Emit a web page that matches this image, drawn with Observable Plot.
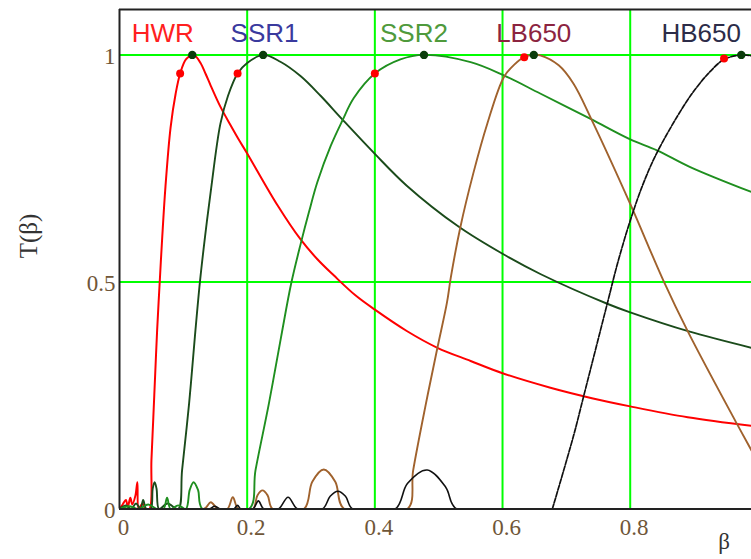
<!DOCTYPE html>
<html>
<head>
<meta charset="utf-8">
<script src="https://cdn.jsdelivr.net/npm/d3@7"></script>
<script src="https://cdn.jsdelivr.net/npm/@observablehq/plot@0.6"></script>
<style>
  html, body { margin: 0; padding: 0; background: #ffffff; }
  #chart { width: 751px; height: 559px; overflow: hidden; }
</style>
</head>
<body>
<div id="chart"></div>
<script>
// ---------- data ----------
const hwrBeta = [0, 0.005, 0.010, 0.013, 0.017, 0.020, 0.025, 0.028, 0.030, 0.036, 0.041, 0.047, 0.050, 0.053, 0.056, 0.059, 0.063, 0.067, 0.072, 0.080, 0.088, 0.095, 0.104, 0.114, 0.120, 0.127, 0.135, 0.143, 0.158, 0.174, 0.187, 0.200, 0.247, 0.284, 0.310, 0.336, 0.370, 0.400, 0.450, 0.498, 0.550, 0.600, 0.675, 0.740, 0.800, 0.890, 0.990];
const hwrT    = [0, 0.010, 0.020, 0.005, 0.025, 0.010, 0.030, 0.059, 0.000, 0.012, 0.000, 0.000, 0.107, 0.202, 0.300, 0.395, 0.500, 0.600, 0.710, 0.840, 0.915, 0.959, 0.990, 1.000, 0.996, 0.982, 0.958, 0.932, 0.886, 0.845, 0.813, 0.783, 0.670, 0.593, 0.550, 0.514, 0.470, 0.439, 0.392, 0.355, 0.326, 0.299, 0.267, 0.244, 0.226, 0.202, 0.183];

const ssr1Beta = [0, 0.010, 0.018, 0.026, 0.033, 0.037, 0.042, 0.049, 0.052, 0.055, 0.058, 0.062, 0.075, 0.092, 0.098, 0.109, 0.118, 0.126, 0.134, 0.143, 0.158, 0.170, 0.185, 0.200, 0.225, 0.252, 0.284, 0.315, 0.349, 0.400, 0.450, 0.531, 0.600, 0.660, 0.764, 0.800, 0.892, 0.990];
const ssr1T    = [0, 0.008, 0.000, 0.012, 0.000, 0.020, 0.000, 0.000, 0.045, 0.059, 0.045, 0.000, 0.012, 0.000, 0.085, 0.232, 0.378, 0.500, 0.600, 0.700, 0.848, 0.910, 0.959, 0.982, 1.000, 0.985, 0.953, 0.910, 0.858, 0.782, 0.712, 0.622, 0.562, 0.517, 0.452, 0.433, 0.391, 0.355];

const ssr2Beta = [0, 0.015, 0.030, 0.045, 0.058, 0.069, 0.0745, 0.080, 0.092, 0.104, 0.110, 0.116, 0.123, 0.130, 0.203, 0.213, 0.234, 0.253, 0.269, 0.284, 0.297, 0.310, 0.331, 0.349, 0.367, 0.400, 0.440, 0.477, 0.550, 0.602, 0.659, 0.738, 0.800, 0.842, 0.894, 0.990];
const ssr2T    = [0, 0.006, 0.000, 0.010, 0.000, 0.000, 0.025, 0.000, 0.008, 0.000, 0.042, 0.059, 0.042, 0.000, 0.000, 0.085, 0.232, 0.378, 0.497, 0.585, 0.655, 0.720, 0.800, 0.855, 0.905, 0.959, 0.990, 1.000, 0.984, 0.955, 0.915, 0.859, 0.814, 0.790, 0.753, 0.698];

const lb650Beta = [0, 0.132, 0.143, 0.154, 0.169, 0.1775, 0.186, 0.209, 0.216, 0.224, 0.232, 0.240, 0.289, 0.302, 0.320, 0.338, 0.352, 0.451, 0.460, 0.479, 0.498, 0.513, 0.519, 0.534, 0.554, 0.576, 0.602, 0.618, 0.634, 0.649, 0.659, 0.688, 0.711, 0.740, 0.800, 0.852, 0.891, 0.967, 0.990];
const lb650T    = [0, 0.000, 0.015, 0.000, 0.000, 0.026, 0.000, 0.000, 0.030, 0.041, 0.030, 0.000, 0.000, 0.060, 0.087, 0.060, 0.000, 0.000, 0.085, 0.225, 0.355, 0.455, 0.510, 0.621, 0.738, 0.848, 0.951, 0.978, 0.995, 1.000, 0.999, 0.977, 0.937, 0.856, 0.672, 0.503, 0.389, 0.188, 0.129];

const hb650Beta = [0, 0.140, 0.149, 0.158, 0.179, 0.185, 0.190, 0.209, 0.2175, 0.226, 0.249, 0.264, 0.279, 0.318, 0.330, 0.342, 0.354, 0.365, 0.432, 0.451, 0.482, 0.511, 0.528, 0.678, 0.711, 0.727, 0.764, 0.780, 0.800, 0.820, 0.842, 0.884, 0.905, 0.925, 0.947, 0.974, 0.990];
const hb650T    = [0, 0.000, 0.006, 0.000, 0.000, 0.008, 0.000, 0.000, 0.018, 0.000, 0.000, 0.026, 0.000, 0.000, 0.028, 0.039, 0.028, 0.000, 0.000, 0.056, 0.086, 0.048, 0.000, 0.000, 0.160, 0.248, 0.452, 0.540, 0.635, 0.715, 0.785, 0.888, 0.930, 0.963, 0.990, 1.000, 0.998];

// marker points
const redDotBeta  = [0.095, 0.185, 0.400, 0.634, 0.947];
const redDotT     = [0.959, 0.959, 0.959, 0.995, 0.992];
const peakDotBeta = [0.114, 0.225, 0.477, 0.649, 0.974];
const peakDotT    = [1, 1, 1, 1, 1];

// labels and ticks
const labelNames = ["HWR", "SSR1", "SSR2", "LB650", "HB650"];
const labelBeta  = [0.019, 0.174, 0.408, 0.590, 0.849];
const labelT     = [1.046, 1.046, 1.046, 1.046, 1.046];
const xTicks = [0, 0.2, 0.4, 0.6, 0.8];
const yTicks = [0, 0.5, 1];
const xGrid  = [0.2, 0.4, 0.6, 0.8];
const yGrid  = [0.5, 1];
const xTitle = "β";
const yTitle = "T(β)";

// ---------- styles ----------
const curveColors = ["#ff0000", "#1b4b1b", "#1f8f1f", "#a0622d", "#111111"];
const labelColors = ["#ff2020", "#3a3a9e", "#4f9a3c", "#8c2440", "#2c2c48"];
const tickColor = "#6f5638";
const serif = "'Liberation Serif', 'Times New Roman', serif";

const rows = (b, t) => b.map((v, i) => ({beta: v, T: t[i]}));
const seriesData = [
  rows(hwrBeta, hwrT),
  rows(ssr1Beta, ssr1T),
  rows(ssr2Beta, ssr2T),
  rows(lb650Beta, lb650T),
  rows(hb650Beta, hb650T)
];

const lineOpts = (i, extra = {}) => ({x: "beta", y: "T", stroke: curveColors[i], strokeWidth: 1.9, curve: "catmull-rom", clip: true, ...extra});

const marks = [
  Plot.ruleX(xGrid, {stroke: "#00ff00", strokeWidth: 2}),
  Plot.ruleY(yGrid, {stroke: "#00ff00", strokeWidth: 2}),
  Plot.line(seriesData[0], lineOpts(0, {strokeWidth: 2})),
  Plot.line(seriesData[1], lineOpts(1)),
  Plot.line(seriesData[2], lineOpts(2)),
  Plot.line(seriesData[3], lineOpts(3)),
  Plot.line(seriesData[4].filter(d => d.beta <= 0.678), lineOpts(4, {strokeWidth: 1.6})),
  Plot.line(seriesData[4].filter(d => d.beta >= 0.678), lineOpts(4, {strokeWidth: 1.7, strokeDasharray: "5,1.6"})),
  Plot.ruleX([0], {stroke: "#222", strokeWidth: 2}),
  Plot.ruleY([0, 1.1], {stroke: "#222", strokeWidth: 2}),
  Plot.dot(rows(redDotBeta, redDotT), {x: "beta", y: "T", r: 4, fill: "#ff0000", stroke: "none"}),
  Plot.dot(rows(peakDotBeta, peakDotT), {x: "beta", y: "T", r: 4.2, fill: "#0b3d0b", stroke: "none"}),
  ...labelNames.map((name, i) =>
    Plot.text([name], {x: () => labelBeta[i], y: () => labelT[i], text: d => d, textAnchor: "start",
      fill: labelColors[i], fontSize: 26, fontFamily: "'Liberation Sans', Arial, sans-serif"})),
  Plot.axisX(xTicks, {tickSize: 0, tickPadding: 10, fontSize: 23, fill: tickColor, dx: 4,
    tickFormat: d => String(d), fontFamily: serif, label: null}),
  Plot.axisY(yTicks, {tickSize: 0, tickPadding: 4, fontSize: 23, fill: tickColor, dy: 2,
    tickFormat: d => String(d), fontFamily: serif, label: null}),
  Plot.text([xTitle], {x: () => 0.947, frameAnchor: "bottom", dy: 40, text: d => d, fontSize: 23,
    fill: "#333", fontFamily: serif}),
  Plot.text([yTitle], {y: () => 0.552, frameAnchor: "left", dx: -91, rotate: -90, text: d => d, fontSize: 25,
    fill: "#333", fontFamily: serif})
];

const chart = Plot.plot({
  width: 751,
  height: 559,
  marginLeft: 119,
  marginRight: 0,
  marginTop: 9,
  marginBottom: 50.5,
  x: {domain: [0, 0.99], label: null},
  y: {domain: [0, 1.1], label: null},
  style: {background: "#ffffff", fontFamily: serif, overflow: "visible"},
  marks
});
document.getElementById("chart").appendChild(chart);
</script>
</body>
</html>
